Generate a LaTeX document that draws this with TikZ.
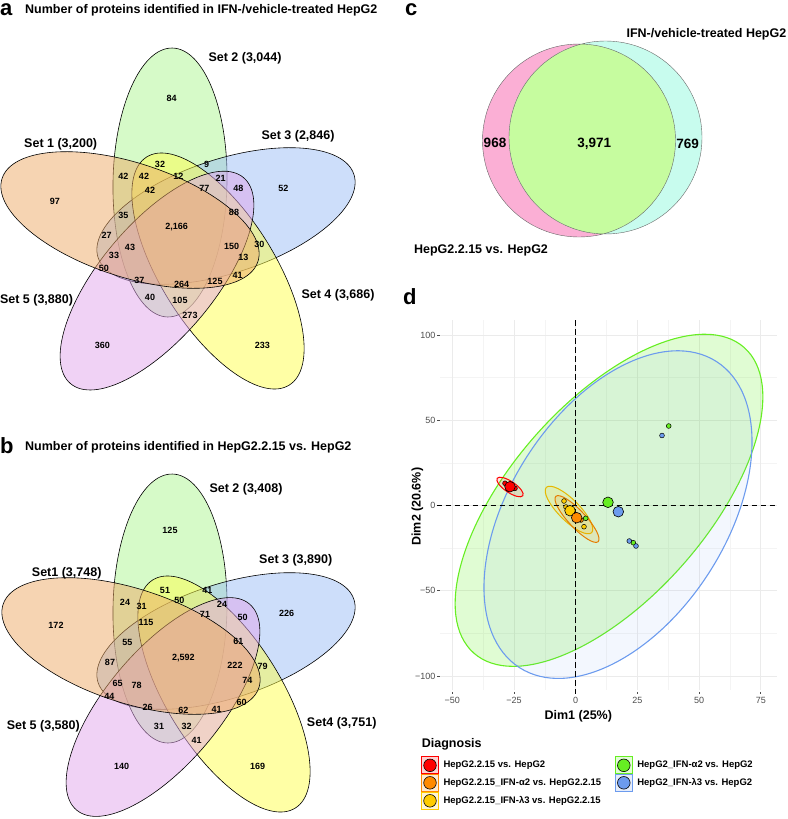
\documentclass[tikz,border=0pt]{standalone}
\usepackage{fontspec}
\setmainfont{Liberation Sans}
\usetikzlibrary{positioning}

\definecolor{vone}{HTML}{EDA965}
\definecolor{vtwo}{HTML}{ADF591}
\definecolor{vthree}{HTML}{9BBDF5}
\definecolor{vfour}{HTML}{FFFF4B}
\definecolor{vfive}{HTML}{E1A5EB}
\definecolor{cpink}{HTML}{FBAFD5}
\definecolor{ccyan}{HTML}{C8FCEE}
\definecolor{cmid}{HTML}{C6FC9F}
\definecolor{dred}{HTML}{FF0000}
\definecolor{dorange}{HTML}{FF8A00}
\definecolor{dgold}{HTML}{FFCC00}
\definecolor{dgreen}{HTML}{66EE22}
\definecolor{dblue}{HTML}{6C9BEE}
\definecolor{gridcol}{HTML}{EBEBEB}
\definecolor{tickcol}{HTML}{4D4D4D}

\begin{document}
\begin{tikzpicture}[x=1pt, y=1pt,
  vset/.style={draw=black, line width=0.6pt, fill opacity=0.5},
  vnum/.style={font=\fontsize{9}{10}\selectfont\bfseries, inner sep=0pt},
  setlab/.style={font=\fontsize{12.5}{14}\selectfont\bfseries, inner sep=0pt},
  ptitle/.style={font=\fontsize{12.5}{14}\selectfont\bfseries, anchor=base west, inner sep=0pt},
  plett/.style={font=\fontsize{22}{24}\selectfont\bfseries, anchor=base west, inner sep=0pt},
  cnum/.style={font=\fontsize{13.5}{15}\selectfont\bfseries, inner sep=0pt},
  gridmaj/.style={draw=gridcol, line width=0.7pt},
  gridmin/.style={draw=gridcol!55, line width=0.4pt},
  ticklab/.style={font=\fontsize{9}{10}\selectfont, text=tickcol, inner sep=0pt},
  zero/.style={dash pattern=on 5.5pt off 3.5pt, line width=1.1pt},
  bigpt/.style={circle, draw=black, line width=0.6pt, minimum size=10.6pt, inner sep=0pt},
  smallpt/.style={circle, draw=black, line width=0.5pt, minimum size=4.8pt, inner sep=0pt},
  keybox/.style={draw, line width=1pt, minimum size=17pt, inner sep=0pt},
  legtxt/.style={font=\fontsize{9.5}{11}\selectfont\bfseries, inner sep=0pt, anchor=west},
]
\useasboundingbox (0,0) rectangle (787,-819);

% ---------- a: five-set Venn ----------
\node[plett] (la) at (0,-16) {a};
\node[ptitle] (ta) at (25,-13.5) {Number of proteins identified in IFN-/vehicle-treated HepG2};
\foreach \cx/\cy/\ang/\col in {170/182.5/89/vtwo, 226/216/18/vthree, 218/271/122/vfour,
    157/280.6/50/vfive, 130/220/162/vone}
  \filldraw[vset, fill=\col, rotate around={\ang:(\cx,-\cy)}] (\cx,-\cy) ellipse [x radius=134.5, y radius=57];
\foreach \px/\py/\t [count=\k] in {55/201.7/97, 171.7/98.3/84, 283.3/188.7/52, 102.3/345.3/360,
    262.3/345.3/233, 123.3/176.7/42, 144/176/42, 160/164/32, 206.7/164/9, 178.3/176/12,
    220.7/178.7/21, 150/190.7/42, 204.3/188.7/77, 238.3/188.3/48, 123.3/215/35, 234/212.7/88,
    176.7/226.7/{2,166}, 106.7/235/27, 130/247.3/43, 231.7/246/150, 259.3/244/30, 114/255/33,
    243.3/257.3/13, 104/268.3/50, 237.7/275.7/41, 139.3/280.3/37, 181.7/284.3/264,
    215/281.7/125, 150/297.7/40, 180/300.7/105, 190/315/273}
  \node[vnum] (na\k) at (\px,-\py) {\t};
\node[setlab] (sa1) at (60.7,-144) {Set 1 (3,200)};
\node[setlab] (sa2) at (245,-58.3) {Set 2 (3,044)};
\node[setlab] (sa3) at (298,-136.7) {Set 3 (2,846)};
\node[setlab] (sa4) at (338,-295.7) {Set 4 (3,686)};
\node[setlab] (sa5) at (36.5,-300) {Set 5 (3,880)};

% ---------- b: five-set Venn ----------
\node[plett] (lb) at (0,-453.3) {b};
\node[ptitle] (tb) at (25,-450.7) {Number of proteins identified in HepG2.2.15 vs. HepG2};
\foreach \cx/\cy/\ang/\col in {170/608.5/89/vtwo, 226/641/18/vthree, 224/694/122/vfour,
    163/707/50/vfive, 131/646/162/vone}
  \filldraw[vset, fill=\col, rotate around={\ang:(\cx,-\cy)}] (\cx,-\cy) ellipse [x radius=134.5, y radius=57];
\foreach \px/\py/\t [count=\k] in {56/625/172, 170/530.7/125, 286.7/613.3/226, 121.7/766.7/140,
    257.7/766.7/169, 125/602/24, 141.7/606.7/31, 165/590/51, 207.3/590/41, 179.3/600/50,
    222/604/24, 146/622.3/115, 205/614/71, 242.7/617.3/50, 127.3/642.3/55, 238.3/641/61,
    183.3/658.3/{2,592}, 110/662.3/87, 117.7/683.3/65, 136.7/685.7/78, 235/665.3/222,
    262.7/666/79, 247.3/680.7/74, 109.3/696.7/44, 241.7/702/60, 147.7/707.7/26,
    183.3/710/62, 216.7/709.3/41, 159/726/31, 186.7/726.7/32, 196.7/740/41}
  \node[vnum] (nb\k) at (\px,-\py) {\t};
\node[setlab] (sb1) at (66.7,-573.3) {Set1 (3,748)};
\node[setlab] (sb2) at (246,-489) {Set 2 (3,408)};
\node[setlab] (sb3) at (295.7,-560) {Set 3 (3,890)};
\node[setlab] (sb4) at (341.7,-723.3) {Set4 (3,751)};
\node[setlab] (sb5) at (43.3,-726) {Set 5 (3,580)};

% ---------- c: two-set Venn ----------
\node[plett] (lc) at (405,-16) {c};
\fill[cpink] (579,-140.5) circle (96.5);
\fill[ccyan] (605.5,-137.5) circle (96.5);
\begin{scope}
  \clip (579,-140.5) circle (96.5);
  \fill[cmid] (605.5,-137.5) circle (96.5);
\end{scope}
\draw[black!60, line width=0.4pt] (579,-140.5) circle (96.5) (605.5,-137.5) circle (96.5);
\node[cnum] (c1) at (495,-143.3) {968};
\node[cnum] (c2) at (594.3,-144) {3,971};
\node[cnum] (c3) at (687.7,-144) {769};
\node[setlab, anchor=east] (ct) at (786.5,-34) {IFN-/vehicle-treated HepG2};
\node[setlab] (cb) at (481,-250.7) {HepG2.2.15 vs. HepG2};

% ---------- d: PCA ----------
\node[plett] (ld) at (403,-304) {d};
\begin{scope}[shift={(575.7,-505.5)}, x=2.468pt, y=1.706pt]
  \foreach \gx in {-37.5,-12.5,12.5,37.5,62.5} \draw[gridmin] (\gx,-108.1) -- (\gx,108.7);
  \foreach \gy in {-75,-25,25,75} \draw[gridmin] (-55.1,\gy) -- (81.4,\gy);
  \foreach \gx in {-50,-25,0,25,50,75} \draw[gridmaj] (\gx,-108.1) -- (\gx,108.7);
  \foreach \gy in {-100,-50,0,50,100} \draw[gridmaj] (-55.1,\gy) -- (81.4,\gy);
  \foreach \gy/\lab in {100/100, 50/50, 0/0, -50/−50, -100/−100} {
    \draw[tickcol, line width=0.8pt] (-56.1,\gy) -- (-55.1,\gy);
    \node[ticklab, anchor=east] (yt\gy) at (-56.8,\gy) {\lab};
  }
  \foreach \gx/\lab in {-50/−50, -25/−25, 0/0, 25/25, 50/50, 75/75} {
    \draw[tickcol, line width=0.8pt] (\gx,-109.2) -- (\gx,-110.6);
    \node[ticklab] (xt\gx) at (\gx,-114.4) {\lab};
  }
\end{scope}
% confidence ellipses
\filldraw[draw=dgreen, line width=1.1pt, fill=dgreen, fill opacity=0.2,
  rotate around={48.5:(609,-500.3)}] (609,-500.3) ellipse [x radius=204, y radius=98];
\filldraw[draw=dblue, line width=1.1pt, fill=dblue, fill opacity=0.08,
  rotate around={57.2:(618,-514.6)}] (618,-514.6) ellipse [x radius=182, y radius=108];
\filldraw[draw=dred, line width=1pt, fill=dred, fill opacity=0.1,
  rotate around={-34:(510,-487)}] (510,-487) ellipse [x radius=15.5, y radius=5.5];
\filldraw[draw=dgold!90!black, line width=1pt, fill=dgold, fill opacity=0.15,
  rotate around={-45:(569,-510)}] (569,-510) ellipse [x radius=32, y radius=10.5];
\filldraw[draw=dorange!90!black, line width=1pt, fill=dorange, fill opacity=0.12,
  rotate around={-47:(577,-519)}] (577,-519) ellipse [x radius=31, y radius=8.5];
% zero lines
\coordinate (vtop) at (575.7,-320);
\coordinate (vbot) at (575.7,-694);
\coordinate (hleft) at (436.7,-505.5);
\coordinate (hright) at (776.7,-505.5);
\draw[zero] (vtop) -- (vbot);
\draw[zero] (hleft) -- (hright);
% individuals
\foreach \px/\py/\col [count=\k] in {505/483.3/dred, 515/488.3/dred, 508/489/dred,
    564/501/dgold, 584/526.7/dgold, 566/507/dgold, 581/520/dorange, 573/512/dorange,
    585.7/518.3/dgreen, 668.7/426/dgreen, 633.3/542.7/dgreen,
    662/435.5/dblue, 629.3/541/dblue, 636/546/dblue}
  \node[smallpt, fill=\col] (p\k) at (\px,-\py) {};
% group centres
\node[bigpt, fill=dred] (mred) at (510,-486.7) {};
\node[bigpt, fill=dgold] (mgold) at (570,-510.7) {};
\node[bigpt, fill=dorange] (morange) at (576.7,-517.7) {};
\node[bigpt, fill=dgreen] (mgreen) at (608,-502.3) {};
\node[bigpt, fill=dblue] (mblue) at (618.3,-511.7) {};
\node[setlab] (dx) at (578.3,-716) {Dim1 (25\%)};
\node[setlab, rotate=90] (dy) at (417.3,-506.7) {Dim2 (20.6\%)};

% legend
\node[setlab, anchor=west] (lgt) at (421.7,-744) {Diagnosis};
\foreach \kx/\ky/\col/\t [count=\k] in {430/765.3/dred/{HepG2.2.15 vs. HepG2},
    430/782.8/dorange/{HepG2.2.15\_IFN-α2 vs. HepG2.2.15},
    430/800.8/dgold/{HepG2.2.15\_IFN-λ3 vs. HepG2.2.15},
    623.8/765.3/dgreen/{HepG2\_IFN-α2 vs. HepG2},
    623.8/782.8/dblue/{HepG2\_IFN-λ3 vs. HepG2}} {
  \node[keybox, draw=\col, fill=\col!18] (k\k) at (\kx,-\ky) {};
  \node[bigpt, minimum size=12.6pt, fill=\col] at (k\k) {};
  \node[legtxt, right=4.3pt of k\k] (kt\k) {\t};
}
\end{tikzpicture}
\end{document}
